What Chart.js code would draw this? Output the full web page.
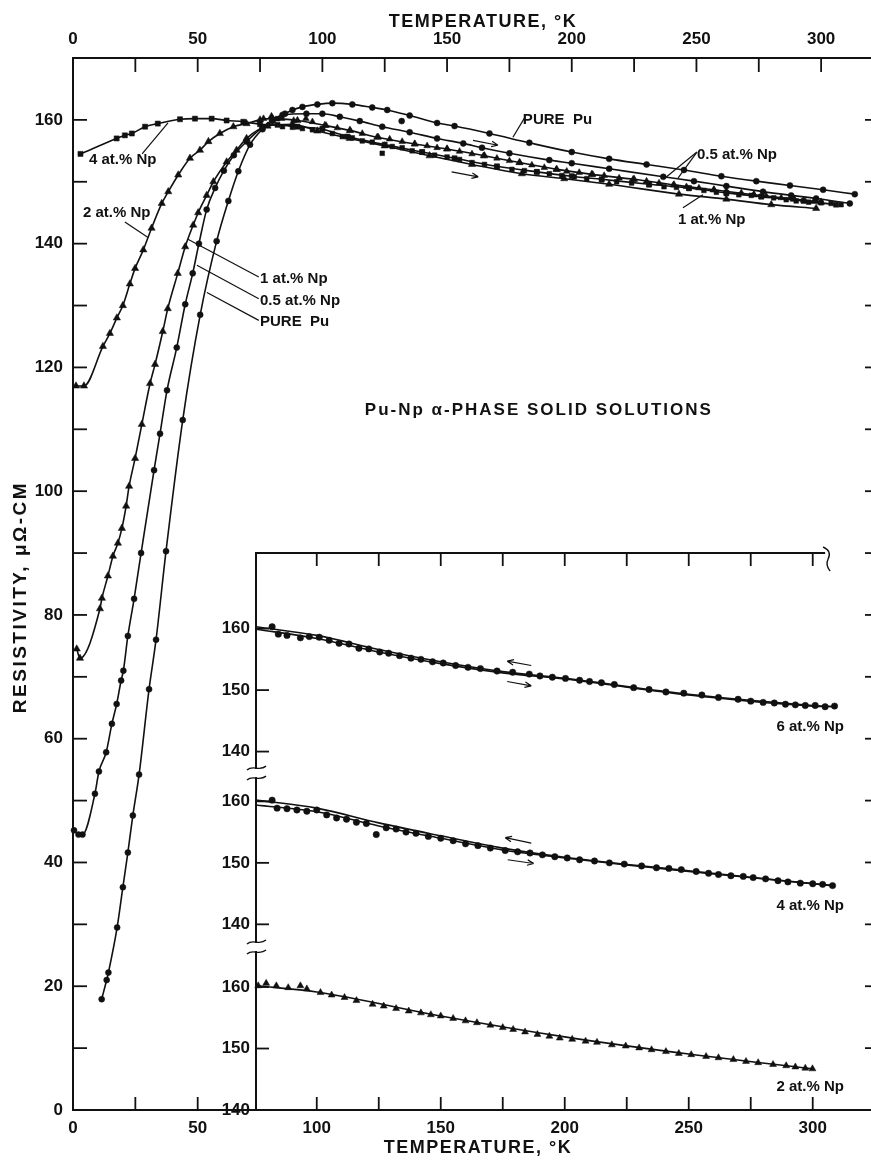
<!DOCTYPE html>
<html>
<head>
<meta charset="utf-8">
<script src="https://cdn.jsdelivr.net/npm/chart.js@4.4.1/dist/chart.umd.min.js"></script>
<style>
    body { margin: 0; background: #fff; }
    #quadro { position: relative; width: 871px; height: 1160px; }
    #caixa_main { position: absolute; left: 0; top: 0; width: 871px; height: 1160px; }
    #caixa_inset { position: absolute; left: 196px; top: 520px; width: 675px; height: 640px; }
</style>
</head>
<body>
<div id="quadro">
    <div id="caixa_main"><canvas id="grafico_main"></canvas></div>
    <div id="caixa_inset"><canvas id="grafico_inset"></canvas></div>
</div>
<script>
// ---- dados do grafico principal: [temperatura K, resistividade uOhm-cm]
var puroPu = [[11.5,17.9],[13.5,21],[14.2,22.2],[17.7,29.5],[20,36],[22,41.6],[24,47.6],[26.5,54.2],[30.5,68],[33.3,76],[37.3,90.3],[44,111.5],[51,128.5],[57.6,140.4],[62.3,146.9],[66.3,151.7],[71,156],[76,158.5],[80,159.8],[85,161],[88,161.6],[92,162.1],[98,162.5],[104,162.7],[112,162.5],[120,162],[126,161.6],[135,160.7],[146,159.5],[153,159],[167,157.8],[183,156.3],[200,154.8],[215,153.7],[230,152.8],[245,151.9],[260,150.9],[274,150.1],[287.5,149.4],[300.8,148.7],[313.5,148]];
var meioNp = [[0.4,45.2],[2.2,44.5],[3.8,44.5],[8.8,51.1],[10.4,54.7],[13.3,57.8],[15.6,62.4],[17.5,65.6],[19.3,69.4],[20.2,71],[22,76.6],[24.5,82.6],[27.3,90],[32.5,103.4],[34.9,109.3],[37.7,116.3],[41.6,123.2],[45,130.2],[48,135.2],[50.5,140],[53.6,145.5],[57,149],[60.5,151.8],[64.5,154.3],[69.6,156.5],[76,158.8],[84,160.8],[93.6,161],[100,161],[107,160.5],[115,159.8],[124,158.9],[135,158],[146,157],[156.5,156.2],[164,155.5],[175,154.6],[191,153.5],[200,153],[215,152.1],[236.7,150.8],[249,150.1],[262,149.3],[276.7,148.4],[288,147.8],[298,147.3],[311.5,146.5]];
var umNp = [[1.5,74.5],[2.8,73],[10.8,81],[11.6,82.7],[14,86.3],[16,89.5],[18,91.6],[19.6,94],[21.3,97.6],[22.5,100.8],[24.9,105.3],[27.6,110.8],[30.9,117.4],[32.9,120.5],[36,125.8],[38,129.5],[42,135.2],[45,139.5],[48.2,143],[50.2,145],[53.6,147.8],[56.3,150],[61.6,153.2],[65.6,155.1],[69.6,157],[78,159],[88,159.3],[98,158.2],[111,157],[125,155.8],[143,154.2],[160,152.8],[180,151.3],[197,150.5],[215,149.6],[243,148],[262,147.2],[280,146.3],[298,145.7]];
var doisNp = [[1.2,117],[4.4,117],[12,123.4],[14.8,125.5],[17.6,128],[20,130],[22.8,133.5],[24.9,136],[28.2,139],[31.5,142.5],[35.6,146.5],[38.2,148.4],[42.2,151.1],[46.9,153.8],[50.9,155.1],[54.3,156.5],[58.9,157.8],[64.3,158.9],[69.6,159.4],[75,160],[80,160.2],[90,159.9],[101,159.1],[111,158.3],[122,157.2],[137,156.1],[150,155.3],[165,154.2],[179,153.1],[194,152],[208,151.2],[225,150.4],[241,149.5],[257,148.7],[273,147.9],[289,147.2],[300,146.7]];
var quatroNp = [[3,154.5],[17.5,157],[20.8,157.5],[23.6,157.8],[28.9,158.9],[34,159.4],[42.9,160.1],[48.9,160.2],[55.6,160.2],[61.6,159.9],[68.3,159.7],[75,159.3],[82,159.2],[90,158.9],[100,158.5],[110,157.3],[125,156],[140,154.8],[153,153.8],[170,152.5],[186,151.6],[200,150.9],[212,150.4],[231,149.6],[247,149],[262,148.2],[276,147.6],[293,146.9],[306,146.3]];
var avulsosCirculo = [[131.8,159.8]];

// ---- dados do detalhe (inset), mesmas medidas de 2 e 4 at.% acima de 75 K
var seisLinhaA = [[75.5,160.3],[100,158.9],[125,156.6],[150,154.6],[175,153],[200,151.9],[250,149.3],[300,147.5],[309,147.3]];
var seisLinhaB = [[75.5,159.9],[100,158.4],[125,156.2],[150,154.3],[175,152.8],[200,151.8],[250,149.2],[300,147.4],[309,147.3]];
var seisPontos = [[82,160.3],[84.5,159.1],[88,158.9],[93.4,158.5],[97,158.7],[101,158.6],[105,158.1],[109,157.6],[113,157.5],[117,156.8],[121,156.7],[125.4,156.2],[129,156],[133.4,155.6],[138,155.2],[142,155],[146.7,154.6],[151,154.4],[156,154],[161,153.7],[166,153.5],[172.7,153.1],[179,152.9],[185.7,152.6],[190,152.3],[195,152.1],[200.3,151.9],[206,151.6],[210,151.4],[214.8,151.2],[220,150.9],[227.8,150.4],[234,150.1],[240.8,149.7],[248,149.5],[255.3,149.2],[262,148.8],[269.9,148.5],[275,148.2],[280,148],[284.5,147.9],[289,147.7],[293,147.6],[297,147.5],[301,147.5],[305,147.3],[308.8,147.4]];
var quatroLinhaA = [[75.5,160.2],[100,158.9],[125,156.5],[150,154.4],[175,152.4],[200,150.9],[250,148.7],[308,146.3]];
var quatroLinhaB = [[75.5,159.4],[100,158.3],[125,156],[150,154],[175,152.1],[200,150.8],[250,148.6],[308,146.3]];
var quatroPontos = [[82,160.2],[84,158.9],[88,158.8],[92,158.6],[96,158.4],[100,158.6],[104,157.8],[108,157.3],[112,157.1],[116,156.6],[120,156.4],[124,154.6],[128,155.7],[132,155.5],[136,155],[140,154.8],[145,154.3],[150,154],[155,153.6],[160,153.1],[165,152.8],[170,152.4],[176,152],[181,151.8],[186,151.6],[191,151.3],[196,151],[201,150.8],[206,150.5],[212,150.3],[218,150],[224,149.8],[231,149.5],[237,149.2],[242,149.1],[247,148.9],[253,148.6],[258,148.3],[262,148.1],[267,147.9],[272,147.8],[276,147.6],[281,147.4],[286,147.1],[290,146.9],[295,146.7],[300,146.6],[304,146.5],[308,146.3]];
var doisLinha = [[75.5,160.2],[100,159.2],[150,155.3],[200,151.9],[250,149.1],[300,146.7]];
var doisPontos = [[76.4,160.2],[79.6,160.6],[83.7,160.2],[88.5,159.9],[93.4,160.2],[96,159.7],[101.5,159.1],[106,158.7],[111.2,158.3],[116,157.8],[122.5,157.2],[127,156.9],[132,156.5],[137.1,156.1],[142,155.8],[146,155.5],[150,155.3],[155,154.9],[160,154.5],[164.6,154.2],[170,153.8],[175,153.4],[179.2,153.1],[184,152.7],[189,152.3],[193.8,152],[198,151.7],[203,151.5],[208.4,151.2],[213,151],[219,150.6],[224.6,150.4],[230,150.1],[235,149.8],[240.8,149.5],[246,149.2],[251,149],[257,148.7],[262,148.5],[268,148.2],[273.1,147.9],[278,147.7],[284,147.4],[289.3,147.2],[293,147],[297,146.8],[299.9,146.7]];

// ---- ticks
var ticksTopo = [0,25,50,75,100,125,150,175,200,225,250,275,300];
var ticksBaixoMain = [0,25,50];
var ticksResist = [0,10,20,30,40,50,60,70,80,90,100,110,120,130,140,150,160];
var ticksInsetX = [100,125,150,175,200,225,250,275,300];
var valoresTickInset = [140,150,160];

// ---- textos
var tituloX = 'TEMPERATURE, \u00b0K';
var tituloY = 'RESISTIVITY, \u03bc\u03a9-CM';
var rotulosMain = [
    ['4 at.% Np', 6.4, 153.5],
    ['2 at.% Np', 4, 144.9],
    ['1 at.% Np', 75, 134.3],
    ['0.5 at.% Np', 75, 130.8],
    ['PURE  Pu', 75, 127.3],
    ['PURE  Pu', 180.4, 160],
    ['0.5 at.% Np', 250.2, 154.3],
    ['1 at.% Np', 242.6, 143.8]
];
var guiasMain = [[27.7,154.5,38.1,159.5],[20.8,143.5,30.1,141],[46.1,140.7,74.5,134.6],[49.7,136.5,74.5,131.1],[53.7,132.1,74.5,127.6],[181.2,160.4,176.4,157.2],[250.2,154.8,237.4,150.6],[250.2,154.8,242.6,150.6],[244.6,145.8,252.6,147.9]];
var setasMain = [[160.4,156.7,170.4,155.9],[151.8,151.6,162.5,150.8]];

var desloc = { seis: 58.3, quatro: 30.2, dois: 0 };
var rotulosInset = [['6 at.% Np', 312.6, 144.0, 'seis'], ['4 at.% Np', 312.6, 143.0, 'quatro'], ['2 at.% Np', 312.6, 143.7, 'dois']];
var setasInset = [[186.5,154.0,176.8,154.7,'seis'],[176.8,151.4,186.5,150.7,'seis'],[186.5,153.2,176,154.1,'quatro'],[177,150.5,187.5,149.9,'quatro']];

var familia = '"Liberation Sans", Arial, sans-serif';
var fonteTick = { family: familia, size: 17, weight: 'bold' };
var preto = '#111';

function xy(lista) {
    return lista.map(function (p) { return { x: p[0], y: p[1] }; });
}
function virtual(lista, d) {
    return lista.map(function (p) { return { x: p[0], y: p[1] - 140 + d }; });
}
function serie(dados, estilo, raio, comLinha) {
    return {
        data: dados,
        showLine: comLinha,
        borderColor: preto,
        backgroundColor: preto,
        borderWidth: 1.6,
        pointStyle: estilo,
        pointRadius: raio,
        pointBorderWidth: 0.5,
        pointBorderColor: preto,
        cubicInterpolationMode: 'monotone',
        fill: false,
        clip: 10
    };
}
function seta(ctx, x1, y1, x2, y2) {
    var ang = Math.atan2(y2 - y1, x2 - x1);
    ctx.beginPath();
    ctx.moveTo(x1, y1);
    ctx.lineTo(x2, y2);
    ctx.moveTo(x2, y2);
    ctx.lineTo(x2 - 7 * Math.cos(ang - 0.4), y2 - 7 * Math.sin(ang - 0.4));
    ctx.moveTo(x2, y2);
    ctx.lineTo(x2 - 7 * Math.cos(ang + 0.4), y2 - 7 * Math.sin(ang + 0.4));
    ctx.stroke();
}

// ticks para dentro da area do grafico
function ticksInternos(comprimentos) {
    return {
        id: 'ticksInternos',
        afterDraw: function (chart) {
            var ctx = chart.ctx, a = chart.chartArea;
            ctx.save();
            ctx.strokeStyle = preto;
            ctx.lineWidth = 1.8;
            Object.keys(comprimentos).forEach(function (id) {
                var s = chart.scales[id], len = comprimentos[id];
                s.ticks.forEach(function (t) {
                    var p = s.getPixelForValue(t.value);
                    ctx.beginPath();
                    if (s.position === 'left') { ctx.moveTo(a.left, p); ctx.lineTo(a.left + len, p); }
                    if (s.position === 'right') { ctx.moveTo(a.right, p); ctx.lineTo(a.right - len, p); }
                    if (s.position === 'top') { ctx.moveTo(p, a.top); ctx.lineTo(p, a.top + len); }
                    if (s.position === 'bottom') { ctx.moveTo(p, a.bottom); ctx.lineTo(p, a.bottom - len); }
                    ctx.stroke();
                });
            });
            ctx.restore();
        }
    };
}

var anotacoesMain = {
    id: 'anotacoesMain',
    afterDraw: function (chart) {
        var ctx = chart.ctx, sx = chart.scales.x, sy = chart.scales.y, a = chart.chartArea;
        ctx.save();
        ctx.fillStyle = preto;
        ctx.strokeStyle = preto;
        ctx.lineWidth = 1.2;
        ctx.font = 'bold 15px ' + familia;
        ctx.textAlign = 'left';
        ctx.textBaseline = 'middle';
        rotulosMain.forEach(function (r) {
            ctx.fillText(r[0], sx.getPixelForValue(r[1]), sy.getPixelForValue(r[2]));
        });
        guiasMain.forEach(function (g) {
            ctx.beginPath();
            ctx.moveTo(sx.getPixelForValue(g[0]), sy.getPixelForValue(g[1]));
            ctx.lineTo(sx.getPixelForValue(g[2]), sy.getPixelForValue(g[3]));
            ctx.stroke();
        });
        setasMain.forEach(function (s) {
            seta(ctx, sx.getPixelForValue(s[0]), sy.getPixelForValue(s[1]), sx.getPixelForValue(s[2]), sy.getPixelForValue(s[3]));
        });
        ctx.textAlign = 'center';
        ctx.font = 'bold 17px ' + familia;
        ctx.letterSpacing = '2px';
        ctx.fillText('Pu-Np \u03b1-PHASE SOLID SOLUTIONS', sx.getPixelForValue(186.8), sy.getPixelForValue(113.1));
        // titulos dos eixos, letras espacadas como no original
        ctx.font = 'bold 18px ' + familia;
        ctx.letterSpacing = '1.5px';
        var cx = (a.left + a.right) / 2 + 11;
        ctx.fillText(tituloX, cx, 22);
        ctx.fillText(tituloX, cx - 5, chart.height - 12);
        ctx.translate(21, (a.top + a.bottom) / 2 + 13);
        ctx.rotate(-Math.PI / 2);
        ctx.font = 'bold 19px ' + familia;
        ctx.letterSpacing = '2.5px';
        ctx.fillText(tituloY, 0, 0);
        ctx.restore();
    }
};

var anotacoesInset = {
    id: 'anotacoesInset',
    afterDraw: function (chart) {
        var ctx = chart.ctx, sx = chart.scales.x, sy = chart.scales.y, a = chart.chartArea;
        ctx.save();
        ctx.strokeStyle = preto;
        ctx.fillStyle = preto;
        // borda superior interrompida
        var xe = sx.getPixelForValue(305);
        ctx.lineWidth = 2;
        ctx.beginPath();
        ctx.moveTo(a.left, a.top);
        ctx.lineTo(xe, a.top);
        ctx.stroke();
        ctx.lineWidth = 1.4;
        ctx.beginPath();
        ctx.moveTo(xe - 2, a.top - 6);
        ctx.quadraticCurveTo(xe + 7, a.top - 2, xe + 3, a.top + 6);
        ctx.quadraticCurveTo(xe, a.top + 12, xe + 5, a.top + 18);
        ctx.stroke();
        // quebras do eixo y
        [desloc.quatro - 3.7, desloc.seis - 3.5].forEach(function (v) {
            var p = sy.getPixelForValue(v);
            ctx.clearRect(a.left - 3, p - 4, 6, 8);
            [-5, 5].forEach(function (d) {
                ctx.beginPath();
                ctx.moveTo(a.left - 9, p + d + 2);
                ctx.bezierCurveTo(a.left - 3, p + d - 4, a.left + 3, p + d + 4, a.left + 10, p + d - 2);
                ctx.stroke();
            });
        });
        ctx.lineWidth = 1.2;
        setasInset.forEach(function (s) {
            var d = desloc[s[4]];
            seta(ctx, sx.getPixelForValue(s[0]), sy.getPixelForValue(s[1] - 140 + d), sx.getPixelForValue(s[2]), sy.getPixelForValue(s[3] - 140 + d));
        });
        ctx.font = 'bold 15px ' + familia;
        ctx.textAlign = 'right';
        ctx.textBaseline = 'middle';
        rotulosInset.forEach(function (r) {
            ctx.fillText(r[0], sx.getPixelForValue(r[1]), sy.getPixelForValue(r[2] - 140 + desloc[r[3]]));
        });
        ctx.restore();
    }
};

function fixaTicks(lista) {
    return function (s) { s.ticks = lista.map(function (v) { return { value: v }; }); };
}

// ---- grafico principal
new Chart(document.getElementById('grafico_main'), {
    type: 'scatter',
    data: {
        datasets: [
            serie(xy(puroPu), 'circle', 3, true),
            serie(xy(meioNp), 'circle', 3, true),
            serie(xy(umNp), 'triangle', 4.2, true),
            serie(xy(doisNp), 'triangle', 4.2, true),
            serie(xy(quatroNp), 'rect', 3.6, true),
            serie(xy(doisPontos), 'triangle', 3.8, false),
            serie(xy(quatroPontos), 'rect', 3.3, false),
            serie(xy(avulsosCirculo), 'circle', 3, false)
        ]
    },
    options: {
        responsive: true,
        maintainAspectRatio: false,
        animation: false,
        layout: { padding: 0, autoPadding: false },
        plugins: { legend: { display: false }, tooltip: { enabled: false } },
        scales: {
            x: {
                type: 'linear', position: 'bottom', min: 0, max: 320,
                afterBuildTicks: fixaTicks(ticksBaixoMain),
                afterFit: function (s) { s.height = 50; },
                grid: { display: false, drawTicks: false },
                border: { display: true, color: preto, width: 2 },
                ticks: { padding: 8, font: fonteTick, color: preto, maxRotation: 0, autoSkip: false,
                    callback: function (v) { return v % 50 === 0 ? v : ''; } }
            },
            xTop: {
                type: 'linear', position: 'top', min: 0, max: 320,
                afterBuildTicks: fixaTicks(ticksTopo),
                afterFit: function (s) { s.height = 58; },
                grid: { display: false, drawTicks: false },
                border: { display: true, color: preto, width: 2 },
                ticks: { padding: 8, font: fonteTick, color: preto, maxRotation: 0, autoSkip: false,
                    callback: function (v) { return v % 50 === 0 ? v : ''; } }
            },
            y: {
                type: 'linear', position: 'left', min: 0, max: 170,
                afterBuildTicks: fixaTicks(ticksResist),
                afterFit: function (s) { s.width = 73; },
                grid: { display: false, drawTicks: false },
                border: { display: true, color: preto, width: 2 },
                ticks: { padding: 10, font: fonteTick, color: preto, autoSkip: false,
                    callback: function (v) { return v % 20 === 0 ? v : ''; } }
            },
            yRight: {
                type: 'linear', position: 'right', min: 0, max: 170,
                afterBuildTicks: fixaTicks(ticksResist.slice(1)),
                afterFit: function (s) { s.width = 0; },
                grid: { display: false, drawTicks: false },
                border: { display: false },
                ticks: { display: false }
            }
        }
    },
    plugins: [ticksInternos({ x: 13, xTop: 14, y: 14, yRight: 6 }), anotacoesMain]
});

// ---- detalhe 75-320 K, tres paineis empilhados
new Chart(document.getElementById('grafico_inset'), {
    type: 'scatter',
    data: {
        datasets: [
            serie(virtual(seisLinhaA, desloc.seis), 'circle', 0, true),
            serie(virtual(seisLinhaB, desloc.seis), 'circle', 0, true),
            serie(virtual(seisPontos, desloc.seis), 'circle', 3.2, false),
            serie(virtual(quatroLinhaA, desloc.quatro), 'circle', 0, true),
            serie(virtual(quatroLinhaB, desloc.quatro), 'circle', 0, true),
            serie(virtual(quatroPontos, desloc.quatro), 'circle', 3.2, false),
            serie(virtual(doisLinha, desloc.dois), 'circle', 0, true),
            serie(virtual(doisPontos, desloc.dois), 'triangle', 4, false)
        ]
    },
    options: {
        responsive: true,
        maintainAspectRatio: false,
        animation: false,
        layout: { padding: 0, autoPadding: false },
        plugins: { legend: { display: false }, tooltip: { enabled: false } },
        scales: {
            x: {
                type: 'linear', position: 'bottom', min: 75.5, max: 323.5,
                afterBuildTicks: fixaTicks(ticksInsetX),
                afterFit: function (s) { s.height = 50; },
                grid: { display: false, drawTicks: false },
                border: { display: true, color: preto, width: 2 },
                ticks: { padding: 8, font: fonteTick, color: preto, maxRotation: 0, autoSkip: false,
                    callback: function (v) { return v % 50 === 0 ? v : ''; } }
            },
            xTop: {
                type: 'linear', position: 'top', min: 75.5, max: 323.5,
                afterBuildTicks: fixaTicks(ticksInsetX),
                afterFit: function (s) { s.height = 33; },
                grid: { display: false, drawTicks: false },
                border: { display: false },
                ticks: { display: false }
            },
            y: {
                type: 'linear', position: 'left', min: 0, max: 90.6,
                afterBuildTicks: function (s) {
                    var t = [];
                    [desloc.dois, desloc.quatro, desloc.seis].forEach(function (d) {
                        valoresTickInset.forEach(function (v) { t.push({ value: v - 140 + d }); });
                    });
                    s.ticks = t;
                },
                afterFit: function (s) { s.width = 60; },
                grid: { display: false, drawTicks: false },
                border: { display: true, color: preto, width: 2 },
                ticks: { padding: 6, font: fonteTick, color: preto, autoSkip: false,
                    callback: function (v, i) { return valoresTickInset[i % 3]; } }
            }
        }
    },
    plugins: [ticksInternos({ x: 13, xTop: 13, y: 13 }), anotacoesInset]
});
</script>
</body>
</html>
